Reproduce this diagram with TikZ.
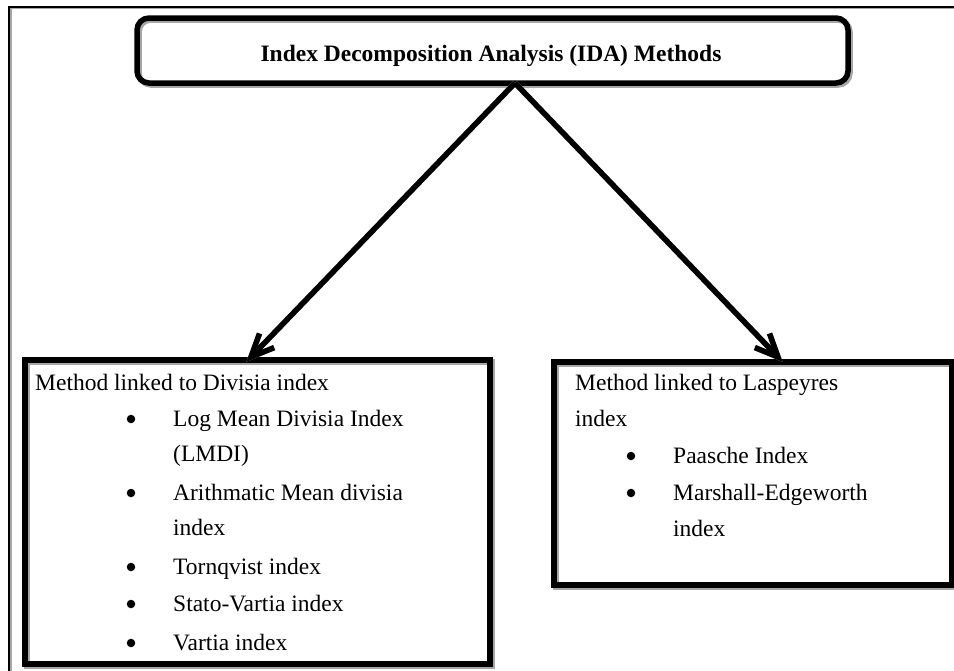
\documentclass[tikz,border=0pt]{standalone}
\usepackage{fontspec}
\setmainfont{Liberation Serif}
\usetikzlibrary{calc}
\begin{document}
\begin{tikzpicture}[x=1pt,y=-1pt,
  txt/.style={anchor=base west,inner sep=0pt,font=\fontsize{23.5}{26}\selectfont},
  bul/.style={circle,fill=black,inner sep=0pt,minimum size=8.5pt},
  boxline/.style={line width=5.5pt,draw=black},
  shadowline/.style={line width=5.5pt,draw=black!35},
  arr/.style={line width=5.5pt,line join=miter,line cap=butt},
  arrsh/.style={line width=5.5pt,draw=black!35,line join=miter}]
\useasboundingbox (0,0) rectangle (954,670);
\fill[white] (0,0) rectangle (954,670);
% outer frame
\draw[line width=2.5pt,black!35] (10.5,8) -- (956,8);
\draw[line width=2.5pt,black!35] (10.5,8) -- (10.5,672);
\draw[line width=2pt] (956,6.5) -- (9,6.5) -- (9,672);
% title box
\draw[shadowline,rounded corners=12pt] (139,20) rectangle (850,85);
\node[boxline,rounded corners=12pt,minimum width=711pt,minimum height=65pt,inner sep=0pt] (title) at (492.5,50.5) {};
\node[anchor=base,inner sep=0pt,font=\fontsize{23.5}{26}\selectfont\bfseries] (tt) at (491,61) {Index Decomposition Analysis (IDA) Methods};
% boxes
\draw[shadowline] (27,362) rectangle (492,666);
\node[boxline,minimum width=465pt,minimum height=304pt,inner sep=0pt] (lbox) at (257.5,512) {};
\draw[shadowline] (556,364) rectangle (954,587);
\node[boxline,minimum width=398pt,minimum height=223pt,inner sep=0pt] (rbox) at (753,473.5) {};
% arrows
\coordinate (apex) at (515,83);
\coordinate (ltip) at (251,357);
\coordinate (rtip) at (778,357);
\coordinate (lb1) at ($(ltip)!25pt!24:(apex)$);
\coordinate (lb2) at ($(ltip)!25pt!-24:(apex)$);
\coordinate (rb1) at ($(rtip)!25pt!24:(apex)$);
\coordinate (rb2) at ($(rtip)!25pt!-24:(apex)$);
\begin{scope}[shift={(1.8,1.8)}]
\draw[arrsh] (apex) -- (ltip);
\draw[arrsh] (apex) -- (rtip);
\draw[arrsh] (lb1) -- (ltip) -- (lb2);
\draw[arrsh] (rb1) -- (rtip) -- (rb2);
\end{scope}
\draw[arr] (apex) -- ($(ltip)!4pt!(apex)$);
\draw[arr] (apex) -- ($(rtip)!4pt!(apex)$);
\draw[arr] (lb1) -- (ltip) -- (lb2);
\draw[arr] (rb1) -- (rtip) -- (rb2);
% left text
\node[txt] (l0) at (35,390) {Method linked to Divisia index};
\node[bul] (b1) at (131,419) {};
\node[txt] (l1) at (173,426) {Log Mean Divisia Index};
\node[txt] (l1b) at (173,461) {(LMDI)};
\node[bul] (b2) at (131,493) {};
\node[txt] (l2) at (173,500) {Arithmatic Mean divisia};
\node[txt] (l2b) at (173,535) {index};
\node[bul] (b3) at (131,567) {};
\node[txt] (l3) at (173,574) {Tornqvist index};
\node[bul] (b4) at (131,604) {};
\node[txt] (l4) at (173,611) {Stato-Vartia index};
\node[bul] (b5) at (131,643) {};
\node[txt] (l5) at (173,650) {Vartia index};
% right text
\node[txt] (r0) at (575,390) {Method linked to Laspeyres};
\node[txt] (r0b) at (575,426) {index};
\node[bul] (c1) at (631,456) {};
\node[txt] (r1) at (673,463) {Paasche Index};
\node[bul] (c2) at (631,493) {};
\node[txt] (r2) at (673,500) {Marshall-Edgeworth};
\node[txt] (r2b) at (673,536) {index};
\end{tikzpicture}
\end{document}
